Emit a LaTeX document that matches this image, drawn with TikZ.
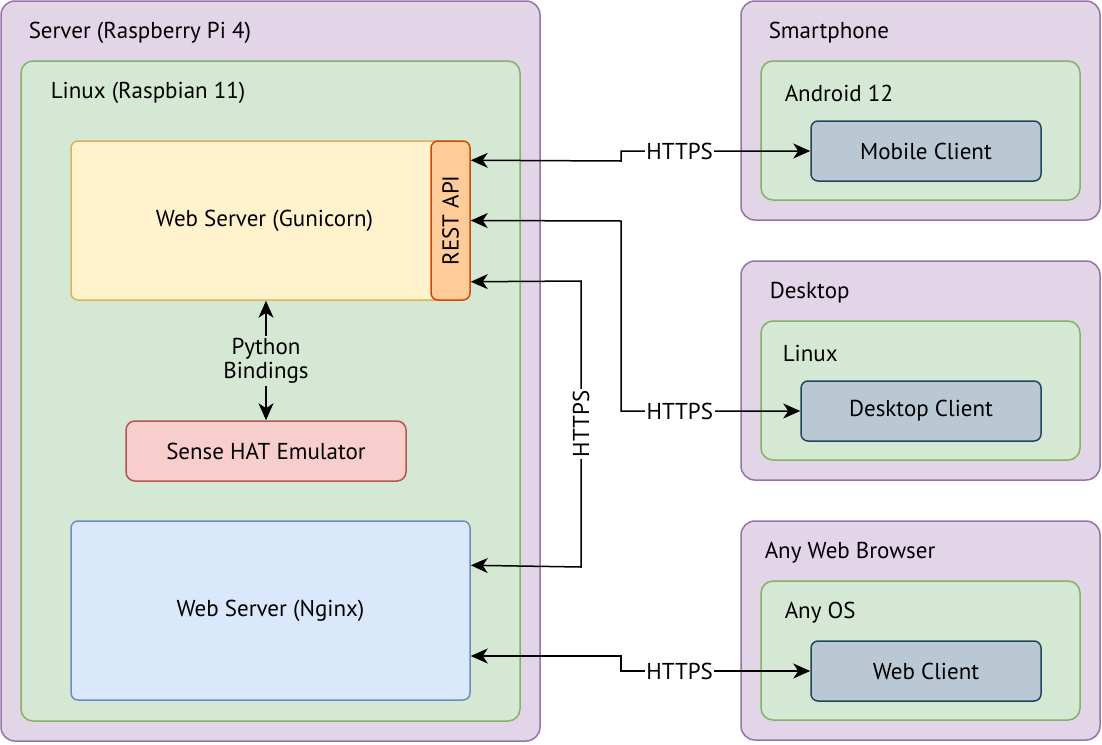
\documentclass[tikz,border=0pt]{standalone}
\usepackage{fontspec}
\setmainfont{PT Sans}
\usetikzlibrary{arrows.meta,calc}

\definecolor{purpleFill}{HTML}{E1D5E7}
\definecolor{purpleLine}{HTML}{9673A6}
\definecolor{greenFill}{HTML}{D5E8D4}
\definecolor{greenLine}{HTML}{82B366}
\definecolor{yellowFill}{HTML}{FFF2CC}
\definecolor{yellowLine}{HTML}{D6B656}
\definecolor{orangeFill}{HTML}{FFCC99}
\definecolor{orangeLine}{HTML}{CC4B00}
\definecolor{redFill}{HTML}{F8CECC}
\definecolor{redLine}{HTML}{B85450}
\definecolor{blueFill}{HTML}{DAE8FC}
\definecolor{blueLine}{HTML}{6C8EBF}
\definecolor{slateFill}{HTML}{BAC8D3}
\definecolor{slateLine}{HTML}{23445D}

\begin{document}
\begin{tikzpicture}[x=1pt,y=-1pt,line width=1.5pt,
  font=\fontsize{23}{27}\selectfont,
  device/.style={shape=rectangle,rounded corners=14pt,draw=purpleLine,fill=purpleFill},
  system/.style={shape=rectangle,rounded corners=12pt,draw=greenLine,fill=greenFill},
  client/.style={shape=rectangle,rounded corners=7pt,draw=slateLine,fill=slateFill},
  caption/.style={anchor=west,inner sep=0pt},
  link/.style={{Stealth[length=17pt,width=15pt,inset=5pt]}-{Stealth[length=17pt,width=15pt,inset=5pt]}},
  proto/.style={fill=white,inner sep=1.5pt}]
  \useasboundingbox (0,0) rectangle (1102,744);

  % server side
  \node[device,minimum width=539,minimum height=740] (server) at (270.5,371) {};
  \node[caption] (serverLabel) at (28,33) {Server (Raspberry Pi 4)};
  \node[system,minimum width=499,minimum height=660] (linuxServer) at (270.5,391) {};
  \node[caption] (linuxServerLabel) at (50,93) {Linux (Raspbian 11)};
  \node[shape=rectangle,rounded corners=7pt,draw=yellowLine,fill=yellowFill,minimum width=387,minimum height=159] (gunicorn) at (264.5,220.5) {Web Server (Gunicorn)};
  \node[shape=rectangle,rounded corners=7pt,draw=orangeLine,fill=orangeFill,minimum width=39,minimum height=159] (restApi) at (450.5,220.5) {};
  \node[rotate=90] (restApiLabel) at (restApi) {REST API};
  \node[shape=rectangle,rounded corners=9pt,draw=redLine,fill=redFill,minimum width=280,minimum height=60] (senseHat) at (266,451) {Sense HAT Emulator};
  \node[shape=rectangle,rounded corners=7pt,draw=blueLine,fill=blueFill,minimum width=399,minimum height=179] (nginx) at (270.5,610.5) {Web Server (Nginx)};
  \node[align=center,inner sep=2pt] (pythonBindings) at (266,361) {Python\\[-3pt]Bindings};

  % clients
  \node[device,minimum width=359,minimum height=219] (smartphone) at (920.5,110.5) {};
  \node[caption] (smartphoneLabel) at (768,33) {Smartphone};
  \node[system,minimum width=319,minimum height=139] (android) at (920.5,130.5) {};
  \node[caption] (androidLabel) at (784,93) {Android 12};
  \node[client,minimum width=230,minimum height=60] (mobileClient) at (926,151) {Mobile Client};

  \node[device,minimum width=359,minimum height=219] (desktop) at (920.5,370.5) {};
  \node[caption] (desktopLabel) at (769,293) {Desktop};
  \node[system,minimum width=319,minimum height=139] (linuxDesktop) at (920.5,390.5) {};
  \node[caption] (linuxDesktopLabel) at (782,353) {Linux};
  \node[client,minimum width=240,minimum height=60] (desktopClient) at (921,411) {Desktop Client};

  \node[device,minimum width=359,minimum height=219] (browser) at (920.5,630.5) {};
  \node[caption] (browserLabel) at (764,553) {Any Web Browser};
  \node[system,minimum width=319,minimum height=139] (anyOs) at (920.5,650.5) {};
  \node[caption] (anyOsLabel) at (784,613) {Any OS};
  \node[client,minimum width=230,minimum height=60] (webClient) at (926,671) {Web Client};

  % connections
  \draw[-{Stealth[length=17pt,width=15pt,inset=5pt]}] (pythonBindings) -- (pythonBindings |- gunicorn.south);
  \draw[-{Stealth[length=17pt,width=15pt,inset=5pt]}] (pythonBindings) -- (pythonBindings |- senseHat.north);
  \draw[link] (mobileClient.west) -- (621,151) node[proto,pos=0.69] {HTTPS} -- (621,161) -- ($(restApi.north east)+(0,20)$);
  \draw[link] (desktopClient.west) -- (621,411) node[proto,pos=0.672] {HTTPS} -- (621,221) -- (restApi.east);
  \draw[link] ($(nginx.north east)+(0,45)$) -- (581,567) -- (581,281) node[proto,rotate=90,midway] {HTTPS} -- ($(restApi.south east)+(0,-19)$);
  \draw[link] (webClient.west) -- (621,671) node[proto,pos=0.69] {HTTPS} -- (621,656) -- ($(nginx.east)+(0,45.5)$);
\end{tikzpicture}
\end{document}
